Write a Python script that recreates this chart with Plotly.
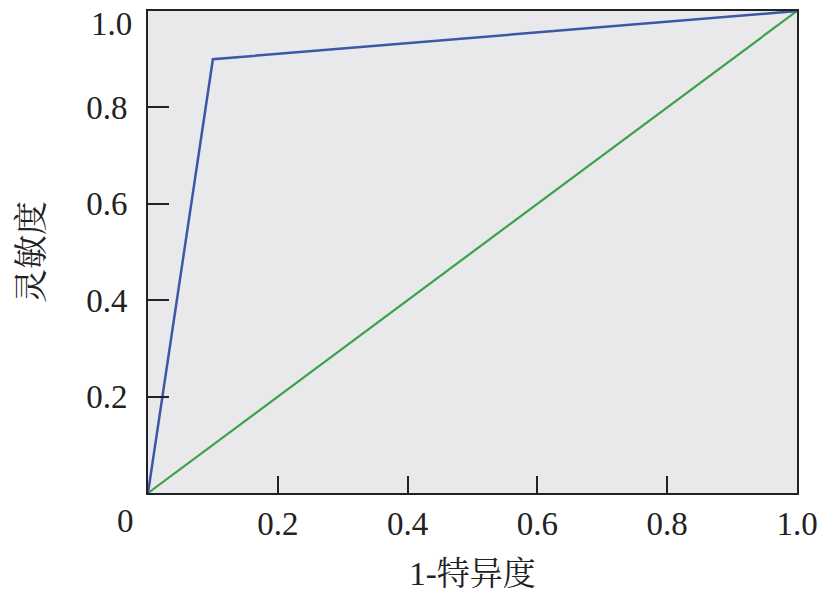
import plotly.graph_objects as go

# Data
roc_x = [0, 0.1, 1.0]
roc_y = [0, 0.9, 1.0]
ref_x = [0, 1.0]
ref_y = [0, 1.0]
x_tickvals = [0.2, 0.4, 0.6, 0.8, 1.0]
x_ticktext = ["0.2", "0.4", "0.6", "0.8", "1.0"]
y_tickvals = [0.2, 0.4, 0.6, 0.8]
y_ticktext = ["0.2", "0.4", "0.6", "0.8"]

SERIF = "Liberation Serif, Times New Roman, Noto Serif CJK SC, Noto Sans CJK SC, serif"

fig = go.Figure()
fig.add_trace(go.Scatter(x=ref_x, y=ref_y, mode="lines",
                         line=dict(color="#3aa247", width=2.2), showlegend=False))
fig.add_trace(go.Scatter(x=roc_x, y=roc_y, mode="lines",
                         line=dict(color="#3b58a6", width=2.5), showlegend=False))

fig.update_layout(
    width=828, height=592,
    margin=dict(l=148, r=31, t=11, b=99),
    paper_bgcolor="white",
    plot_bgcolor="#e9e9ec",
    font=dict(family=SERIF, size=33, color="#222222"),
    xaxis=dict(range=[0, 1], tickvals=x_tickvals, ticktext=x_ticktext,
               ticks="inside", ticklen=17, tickwidth=2, tickcolor="#222",
               showline=True, linecolor="#222", linewidth=2, mirror=True,
               showgrid=False, zeroline=False, automargin=False,
               title=dict(text="1-特异度", font=dict(size=33, family=SERIF), standoff=28),
               tickfont=dict(size=33, family=SERIF)),
    yaxis=dict(range=[0, 1], tickvals=y_tickvals, ticktext=y_ticktext,
               ticks="inside", ticklen=21, tickwidth=2, tickcolor="#222",
               showline=True, linecolor="#222", linewidth=2, mirror=True,
               showgrid=False, zeroline=False, ticklabelstandoff=12, automargin=False,
               title=dict(text="灵敏度", font=dict(size=34, family=SERIF), standoff=32),
               tickfont=dict(size=33, family=SERIF)),
)

# Offset labels at the corners, as in the reference
fig.add_annotation(x=0, y=0, xref="x", yref="y", text="0", showarrow=False,
                   xanchor="center", yanchor="top", xshift=-23, yshift=-8,
                   font=dict(size=33, family=SERIF, color="#222222"))
fig.add_annotation(x=0, y=1, xref="x", yref="y", text="1.0", showarrow=False,
                   xanchor="right", yanchor="middle", xshift=-14, yshift=-13,
                   font=dict(size=33, family=SERIF, color="#222222"))

fig.write_html("out.html", config={"displayModeBar": False},
               post_script="document.body.style.margin='0';")
